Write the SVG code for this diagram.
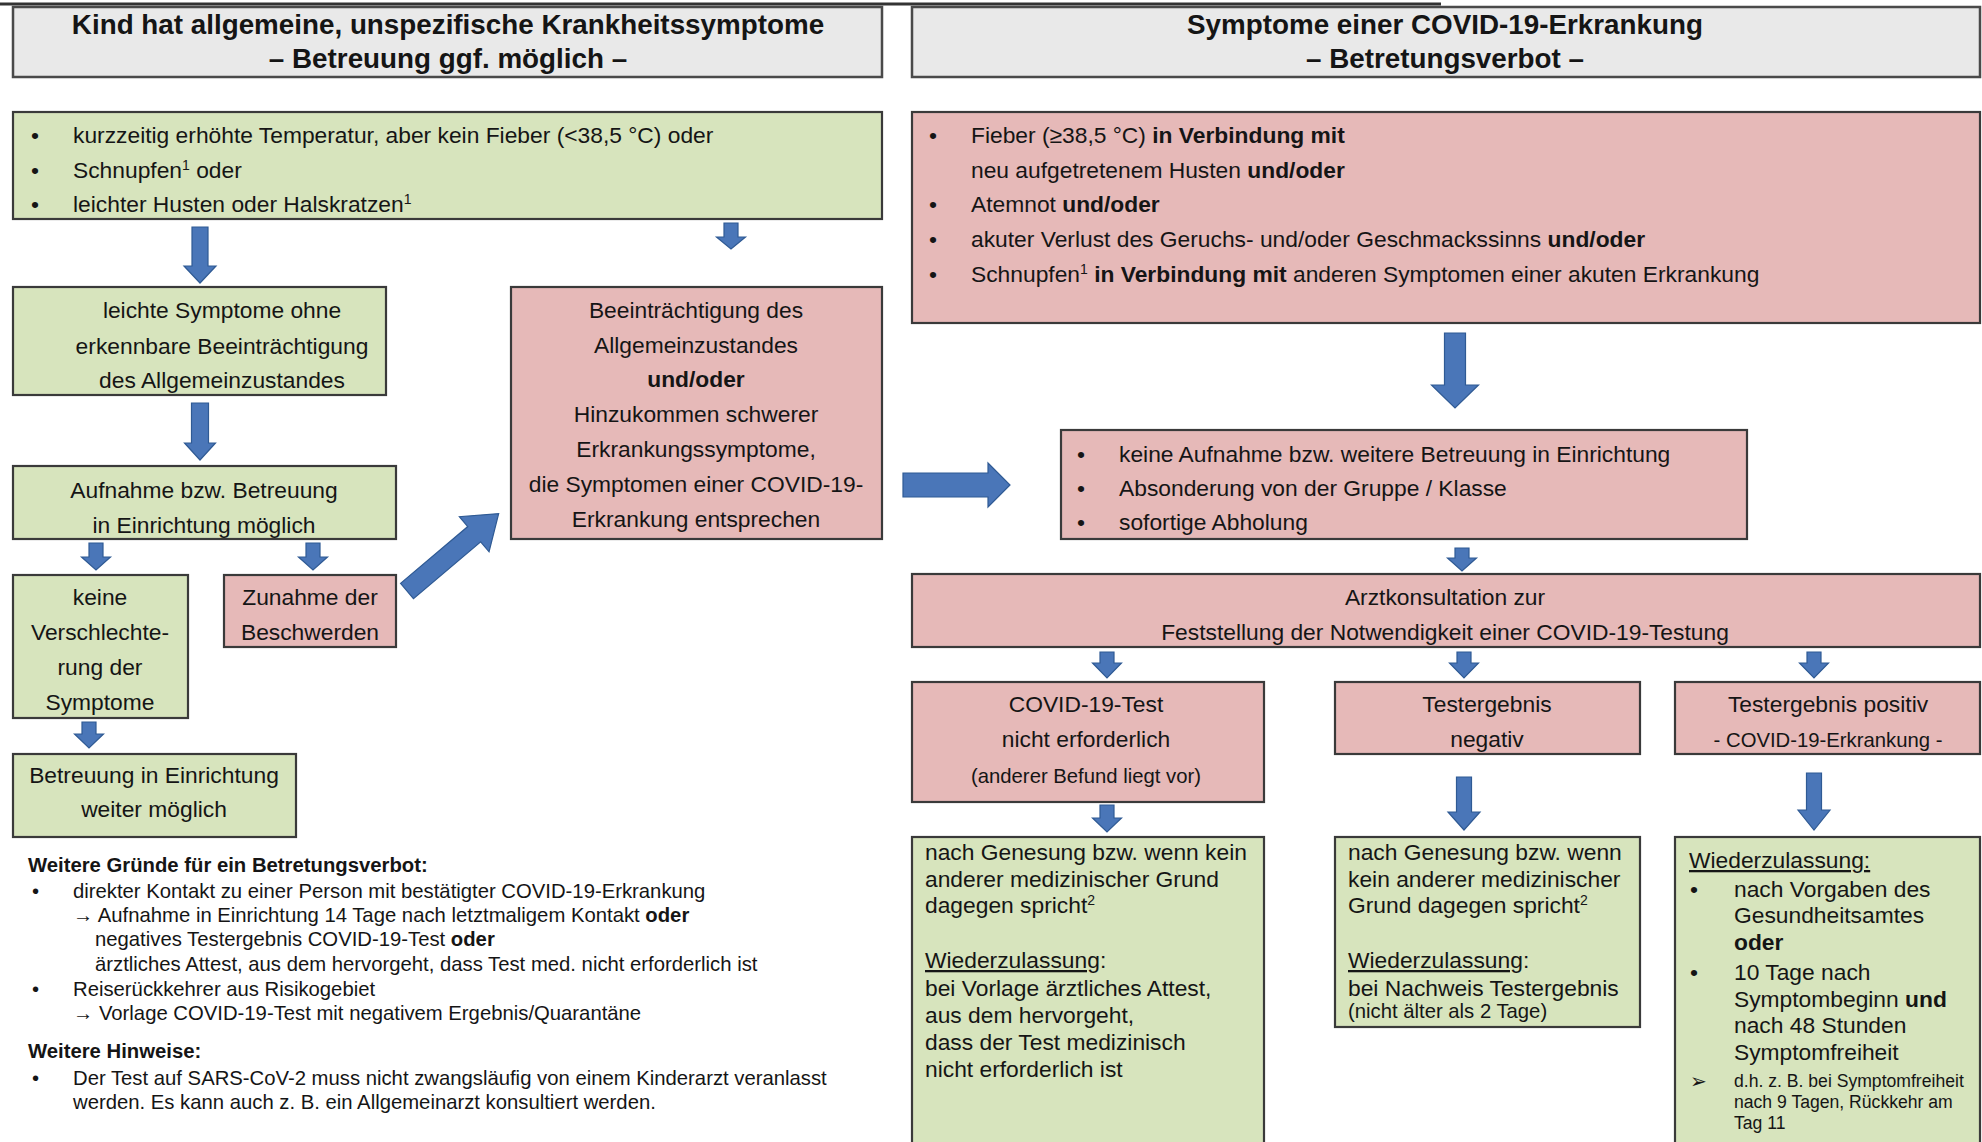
<svg xmlns="http://www.w3.org/2000/svg" width="1982" height="1142" viewBox="0 0 1982 1142">
<style>
.t{font-family:"Liberation Sans",Arial,sans-serif;font-size:22.8px;fill:#151515}
.c{text-anchor:middle}
.h{font-size:27.8px;font-weight:bold}
.s{font-size:20.3px}
.xs{font-size:17.6px}
.b{font-weight:bold}
.u{text-decoration:underline}
.g{fill:#d7e4bd;stroke:#3a3a3a;stroke-width:2.2}
.r{fill:#e6b9b8;stroke:#3a3a3a;stroke-width:2.2}
.hd{fill:#e9e9e9;stroke:#4a4a4a;stroke-width:2.5}
.arr{fill:#4a76b8;stroke:#2f5a94;stroke-width:1.2}
</style>
<rect x="0" y="0" width="1982" height="1142" fill="#ffffff"/>
<line x1="0" y1="4" x2="1441" y2="4" stroke="#333" stroke-width="3"/>

<g id="header-left">
<rect class="hd" x="13" y="7" width="869" height="70"/>
<text class="t h c" x="448" y="34">Kind hat allgemeine, unspezifische Krankheitssymptome</text>
<text class="t h c" x="448" y="68">– Betreuung ggf. möglich –</text>
</g>
<g id="header-right">
<rect class="hd" x="912" y="7" width="1068" height="70"/>
<text class="t h c" x="1445" y="34">Symptome einer COVID-19-Erkrankung</text>
<text class="t h c" x="1445" y="68">– Betretungsverbot –</text>
</g>

<g id="mild-symptoms">
<rect class="g" x="13" y="112" width="869" height="107"/>
<text class="t" x="31" y="143">•</text>
<text class="t" x="73" y="143">kurzzeitig erhöhte Temperatur, aber kein Fieber (&lt;38,5 °C) oder</text>
<text class="t" x="31" y="178">•</text>
<text class="t" x="73" y="178">Schnupfen<tspan dy="-8" font-size="14">1</tspan><tspan dy="8"> oder</tspan></text>
<text class="t" x="31" y="212">•</text>
<text class="t" x="73" y="212">leichter Husten oder Halskratzen<tspan dy="-8" font-size="14">1</tspan></text>
</g>

<g id="covid-symptoms">
<rect class="r" x="912" y="112" width="1068" height="211"/>
<text class="t" x="929" y="143">•</text>
<text class="t" x="971" y="143">Fieber (≥38,5 °C) <tspan class="b">in Verbindung mit</tspan></text>
<text class="t" x="971" y="178">neu aufgetretenem Husten <tspan class="b">und/oder</tspan></text>
<text class="t" x="929" y="212">•</text>
<text class="t" x="971" y="212">Atemnot <tspan class="b">und/oder</tspan></text>
<text class="t" x="929" y="247">•</text>
<text class="t" x="971" y="247">akuter Verlust des Geruchs- und/oder Geschmackssinns <tspan class="b">und/oder</tspan></text>
<text class="t" x="929" y="282">•</text>
<text class="t" x="971" y="282">Schnupfen<tspan dy="-8" font-size="14">1</tspan><tspan dy="8" class="b"> in Verbindung mit</tspan> anderen Symptomen einer akuten Erkrankung</text>
</g>

<g id="light-symptoms">
<rect class="g" x="13" y="287" width="373" height="108"/>
<text class="t c" x="222" y="318">leichte Symptome ohne</text>
<text class="t c" x="222" y="354">erkennbare Beeinträchtigung</text>
<text class="t c" x="222" y="388">des Allgemeinzustandes</text>
</g>

<g id="impairment">
<rect class="r" x="511" y="287" width="371" height="252"/>
<text class="t c" x="696" y="318">Beeinträchtigung des</text>
<text class="t c" x="696" y="353">Allgemeinzustandes</text>
<text class="t c b" x="696" y="387">und/oder</text>
<text class="t c" x="696" y="422">Hinzukommen schwerer</text>
<text class="t c" x="696" y="457">Erkrankungssymptome,</text>
<text class="t c" x="696" y="492">die Symptomen einer COVID-19-</text>
<text class="t c" x="696" y="527">Erkrankung entsprechen</text>
</g>

<g id="admission-possible">
<rect class="g" x="13" y="466" width="383" height="73"/>
<text class="t c" x="204" y="498">Aufnahme bzw. Betreuung</text>
<text class="t c" x="204" y="533">in Einrichtung möglich</text>
</g>

<g id="no-worsening">
<rect class="g" x="13" y="575" width="175" height="143"/>
<text class="t c" x="100" y="605">keine</text>
<text class="t c" x="100" y="640">Verschlechte-</text>
<text class="t c" x="100" y="675">rung der</text>
<text class="t c" x="100" y="710">Symptome</text>
</g>

<g id="increase">
<rect class="r" x="224" y="575" width="172" height="72"/>
<text class="t c" x="310" y="605">Zunahme der</text>
<text class="t c" x="310" y="640">Beschwerden</text>
</g>

<g id="care-continues">
<rect class="g" x="13" y="754" width="283" height="83"/>
<text class="t c" x="154" y="783">Betreuung in Einrichtung</text>
<text class="t c" x="154" y="817">weiter möglich</text>
</g>

<g id="notes">
<text class="t s b" x="28" y="872">Weitere Gründe für ein Betretungsverbot:</text>
<text class="t s" x="32" y="898">•</text>
<text class="t s" x="73" y="898">direkter Kontakt zu einer Person mit bestätigter COVID-19-Erkrankung</text>
<text class="t s" x="73" y="922">→ Aufnahme in Einrichtung 14 Tage nach letztmaligem Kontakt <tspan class="b">oder</tspan></text>
<text class="t s" x="95" y="946">negatives Testergebnis COVID-19-Test <tspan class="b">oder</tspan></text>
<text class="t s" x="95" y="971">ärztliches Attest, aus dem hervorgeht, dass Test med. nicht erforderlich ist</text>
<text class="t s" x="32" y="996">•</text>
<text class="t s" x="73" y="996">Reiserückkehrer aus Risikogebiet</text>
<text class="t s" x="73" y="1020">→ Vorlage COVID-19-Test mit negativem Ergebnis/Quarantäne</text>
<text class="t s b" x="28" y="1058">Weitere Hinweise:</text>
<text class="t s" x="32" y="1085">•</text>
<text class="t s" x="73" y="1085">Der Test auf SARS-CoV-2 muss nicht zwangsläufig von einem Kinderarzt veranlasst</text>
<text class="t s" x="73" y="1109">werden. Es kann auch z. B. ein Allgemeinarzt konsultiert werden.</text>
</g>

<g id="exclusion">
<rect class="r" x="1061" y="430" width="686" height="109"/>
<text class="t" x="1077" y="462">•</text>
<text class="t" x="1119" y="462">keine Aufnahme bzw. weitere Betreuung in Einrichtung</text>
<text class="t" x="1077" y="496">•</text>
<text class="t" x="1119" y="496">Absonderung von der Gruppe / Klasse</text>
<text class="t" x="1077" y="530">•</text>
<text class="t" x="1119" y="530">sofortige Abholung</text>
</g>

<g id="doctor">
<rect class="r" x="912" y="574" width="1068" height="73"/>
<text class="t c" x="1445" y="605">Arztkonsultation zur</text>
<text class="t c" x="1445" y="640">Feststellung der Notwendigkeit einer COVID-19-Testung</text>
</g>

<g id="test-not-required">
<rect class="r" x="912" y="682" width="352" height="120"/>
<text class="t c" x="1086" y="712">COVID-19-Test</text>
<text class="t c" x="1086" y="747">nicht erforderlich</text>
<text class="t c s" x="1086" y="783">(anderer Befund liegt vor)</text>
</g>

<g id="test-negative">
<rect class="r" x="1335" y="682" width="305" height="72"/>
<text class="t c" x="1487" y="712">Testergebnis</text>
<text class="t c" x="1487" y="747">negativ</text>
</g>

<g id="test-positive">
<rect class="r" x="1675" y="682" width="305" height="72"/>
<text class="t c" x="1828" y="712">Testergebnis positiv</text>
<text class="t c s" x="1828" y="747">- COVID-19-Erkrankung -</text>
</g>

<g id="readmission-attest">
<rect class="g" x="912" y="837" width="352" height="330"/>
<text class="t" x="925" y="860">nach Genesung bzw. wenn kein</text>
<text class="t" x="925" y="887">anderer medizinischer Grund</text>
<text class="t" x="925" y="913">dagegen spricht<tspan dy="-8" font-size="14">2</tspan></text>
<text class="t" x="925" y="968"><tspan class="u">Wiederzulassung</tspan>:</text>
<text class="t" x="925" y="996">bei Vorlage ärztliches Attest,</text>
<text class="t" x="925" y="1023">aus dem hervorgeht,</text>
<text class="t" x="925" y="1050">dass der Test medizinisch</text>
<text class="t" x="925" y="1077">nicht erforderlich ist</text>
</g>

<g id="readmission-negative">
<rect class="g" x="1335" y="837" width="305" height="190"/>
<text class="t" x="1348" y="860">nach Genesung bzw. wenn</text>
<text class="t" x="1348" y="887">kein anderer medizinischer</text>
<text class="t" x="1348" y="913">Grund dagegen spricht<tspan dy="-8" font-size="14">2</tspan></text>
<text class="t" x="1348" y="968"><tspan class="u">Wiederzulassung</tspan>:</text>
<text class="t" x="1348" y="996">bei Nachweis Testergebnis</text>
<text class="t s" x="1348" y="1018">(nicht älter als 2 Tage)</text>
</g>

<g id="readmission-positive">
<rect class="g" x="1675" y="837" width="305" height="330"/>
<text class="t u" x="1689" y="868">Wiederzulassung:</text>
<text class="t" x="1690" y="897">•</text>
<text class="t" x="1734" y="897">nach Vorgaben des</text>
<text class="t" x="1734" y="923">Gesundheitsamtes</text>
<text class="t b" x="1734" y="950">oder</text>
<text class="t" x="1690" y="980">•</text>
<text class="t" x="1734" y="980">10 Tage nach</text>
<text class="t" x="1734" y="1007">Symptombeginn <tspan class="b">und</tspan></text>
<text class="t" x="1734" y="1033">nach 48 Stunden</text>
<text class="t" x="1734" y="1060">Symptomfreiheit</text>
<text class="t" x="1690" y="1088" style="font-family:'DejaVu Sans',sans-serif;font-size:20px">➢</text>
<text class="t xs" x="1734" y="1087">d.h. z. B. bei Symptomfreiheit</text>
<text class="t xs" x="1734" y="1108">nach 9 Tagen, Rückkehr am</text>
<text class="t xs" x="1734" y="1129">Tag 11</text>
</g>

<g id="connectors">
<polygon class="arr" points="192,227 208,227 208,266 216,266 200,283 184,266 192,266"/>
<polygon class="arr" points="724,223 738,223 738,237 745.5,237 731,249 716.5,237 724,237"/>
<polygon class="arr" points="191.5,403 208.5,403 208.5,443 215.5,443 200,460 184.5,443 191.5,443"/>
<polygon class="arr" points="89,543 103,543 103,557 110.5,557 96,570 81.5,557 89,557"/>
<polygon class="arr" points="306,543 320,543 320,557 327.5,557 313,570 298.5,557 306,557"/>
<polygon class="arr" points="82,722 96,722 96,734 103.5,734 89,748 74.5,734 82,734"/>
<polygon class="arr" transform="translate(407,591) rotate(-40.2)" points="0,-10 88,-10 88,-23 120,0 88,23 88,10 0,10"/>
<polygon class="arr" points="903,473 988,473 988,463 1010,485 988,507 988,497 903,497"/>
<polygon class="arr" points="1444.5,333 1465.5,333 1465.5,385 1478.5,385 1455,408 1431.5,385 1444.5,385"/>
<polygon class="arr" points="1455,548 1469,548 1469,558 1476.5,558 1462,571 1447.5,558 1455,558"/>
<polygon class="arr" points="1100,652 1114,652 1114,663 1121.5,663 1107,678 1092.5,663 1100,663"/>
<polygon class="arr" points="1457,652 1471,652 1471,663 1478.5,663 1464,678 1449.5,663 1457,663"/>
<polygon class="arr" points="1807,652 1821,652 1821,663 1828.5,663 1814,678 1799.5,663 1807,663"/>
<polygon class="arr" points="1100,805 1114,805 1114,818 1121.5,818 1107,832 1092.5,818 1100,818"/>
<polygon class="arr" points="1456.5,777 1471.5,777 1471.5,812 1480,812 1464,830 1448,812 1456.5,812"/>
<polygon class="arr" points="1806.5,773 1821.5,773 1821.5,810 1830,810 1814,830 1798,810 1806.5,810"/>
</g>
</svg>
